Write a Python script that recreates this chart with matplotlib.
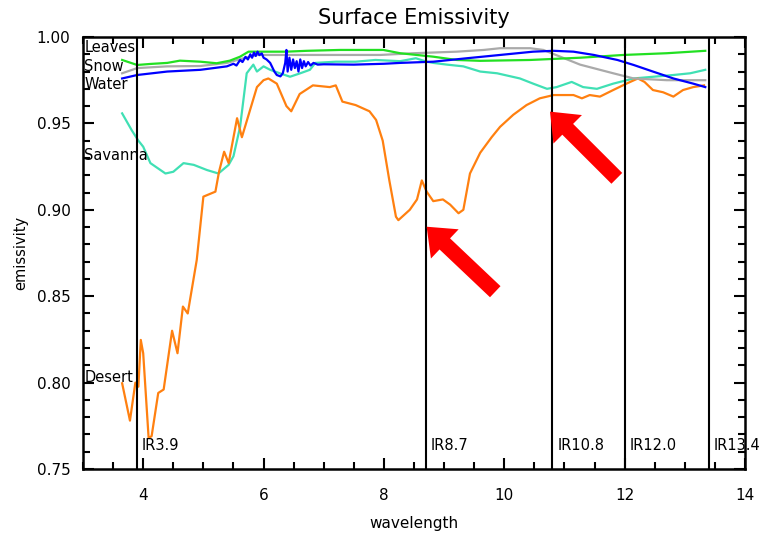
import matplotlib
matplotlib.use("Agg")
import matplotlib.pyplot as plt
from matplotlib.ticker import MultipleLocator

# ---------------- data ----------------
desert_x = [3.65, 3.78, 3.87, 3.92, 3.96, 4.0, 4.09, 4.14, 4.25, 4.34, 4.48, 4.57, 4.66, 4.74,
            4.89, 5.0, 5.2, 5.26, 5.345, 5.42, 5.56, 5.64, 5.89, 6.0, 6.08, 6.22, 6.38, 6.46,
            6.6, 6.82, 7.1, 7.2, 7.31, 7.53, 7.76, 7.87, 7.98, 8.09, 8.2, 8.24, 8.43, 8.55,
            8.63, 8.71, 8.82, 8.98, 9.1, 9.24, 9.32, 9.43, 9.6, 9.79, 9.93, 10.15, 10.37,
            10.59, 10.82, 11.15, 11.29, 11.42, 11.59, 11.81, 12.03, 12.22, 12.33, 12.47,
            12.64, 12.81, 12.97, 13.14, 13.32]
desert_y = [0.7996, 0.778, 0.800, 0.7976, 0.8247, 0.817, 0.768, 0.769, 0.794, 0.796, 0.830,
            0.817, 0.844, 0.840, 0.871, 0.9076, 0.9105, 0.922, 0.9336, 0.927, 0.953, 0.942,
            0.971, 0.975, 0.976, 0.973, 0.960, 0.957, 0.967, 0.972, 0.971, 0.972, 0.9626,
            0.9606, 0.957, 0.952, 0.940, 0.917, 0.896, 0.894, 0.900, 0.906, 0.917, 0.9105,
            0.905, 0.906, 0.903, 0.898, 0.900, 0.921, 0.933, 0.942, 0.948, 0.955, 0.9606,
            0.9645, 0.9664, 0.9664, 0.9645, 0.9664, 0.9655, 0.9693, 0.973, 0.976, 0.974,
            0.9693, 0.968, 0.9655, 0.9693, 0.971, 0.972]

savanna_x = [3.65, 3.81, 3.92, 4.0, 4.12, 4.37, 4.5, 4.67, 4.84, 5.06, 5.25, 5.42, 5.5, 5.61,
             5.72, 5.83, 5.89, 6.0, 6.11, 6.27, 6.44, 6.61, 6.77, 6.86, 7.2, 7.53, 7.86,
             8.27, 8.53, 8.71, 8.82, 9.05, 9.32, 9.6, 9.88, 10.26, 10.48, 10.71, 10.87,
             11.12, 11.31, 11.54, 11.81, 12.15, 12.48, 12.81, 13.09, 13.34]
savanna_y = [0.9558, 0.946, 0.940, 0.9365, 0.927, 0.921, 0.922, 0.927, 0.926, 0.923, 0.921,
             0.926, 0.931, 0.948, 0.979, 0.984, 0.980, 0.983, 0.981, 0.979, 0.977, 0.979,
             0.981, 0.985, 0.9857, 0.9857, 0.9867, 0.986, 0.9877, 0.9857, 0.985, 0.984,
             0.983, 0.980, 0.979, 0.976, 0.973, 0.970, 0.971, 0.974, 0.971, 0.970, 0.973,
             0.976, 0.977, 0.978, 0.979, 0.981]

snow_x = [3.65, 3.9, 4.4, 4.95, 5.39, 5.67, 5.89, 6.2, 7.0, 7.94, 8.49, 9.21, 9.66, 9.93,
          10.43, 10.65, 10.93, 11.26, 11.81, 12.15, 12.7, 13.34]
snow_y = [0.979, 0.982, 0.983, 0.9832, 0.985, 0.9877, 0.9896, 0.9896, 0.9896, 0.9896, 0.9906,
          0.9915, 0.9925, 0.9935, 0.9935, 0.9925, 0.9886, 0.984, 0.979, 0.976, 0.975, 0.975]

leaves_x = [3.65, 3.9, 4.12, 4.4, 4.61, 4.95, 5.22, 5.44, 5.61, 5.75, 5.89, 6.05, 6.38, 6.72,
            7.27, 7.99, 8.27, 8.82, 9.21, 9.6, 10.43, 11.26, 11.98, 12.7, 13.34]
leaves_y = [0.9867, 0.9838, 0.9844, 0.985, 0.9863, 0.9857, 0.9848, 0.9863, 0.9886, 0.9915,
            0.9915, 0.9915, 0.9915, 0.992, 0.9925, 0.9925, 0.9906, 0.9886, 0.9867, 0.9862,
            0.9867, 0.988, 0.9896, 0.9906, 0.992]

water_x = [3.65, 3.9, 4.4, 4.95, 5.39, 5.5, 5.55, 5.61, 5.65, 5.7, 5.74, 5.78, 5.81, 5.84,
           5.87, 5.9, 5.93, 5.97, 6.0, 6.05, 6.11, 6.18, 6.22, 6.28, 6.32, 6.36, 6.38, 6.40,
           6.43, 6.46, 6.49, 6.52, 6.55, 6.58, 6.61, 6.64, 6.67, 6.70, 6.74, 6.78, 6.83,
           6.9, 7.0, 7.5, 8.0, 8.27, 8.82, 9.38, 9.93, 10.48, 10.82, 11.15, 11.49, 11.88,
           12.15, 12.47, 12.81, 13.14, 13.34]
water_y = [0.976, 0.978, 0.980, 0.981, 0.983, 0.9845, 0.9835, 0.9867, 0.9855, 0.9885, 0.9870,
           0.9900, 0.9880, 0.9910, 0.9890, 0.9915, 0.9895, 0.9905, 0.9880, 0.9870, 0.985,
           0.980, 0.978, 0.9772, 0.9790, 0.9850, 0.9925, 0.980, 0.988, 0.981, 0.987, 0.982,
           0.986, 0.980, 0.987, 0.982, 0.986, 0.983, 0.9855, 0.9835, 0.985, 0.984, 0.9842,
           0.9840, 0.9845, 0.985, 0.9857, 0.9877, 0.9896, 0.9915, 0.992, 0.9915, 0.9896,
           0.9867, 0.9838, 0.980, 0.976, 0.973, 0.971]

surface_names = ["Leaves", "Snow", "Water", "Savanna", "Desert"]
surface_label_y = [0.9942, 0.9830, 0.9725, 0.9317, 0.8027]

channel_names = ["IR3.9", "IR8.7", "IR10.8", "IR12.0", "IR13.4"]
channel_x = [3.9, 8.7, 10.8, 12.0, 13.4]

arrow_tips = [(8.71, 0.8902), (10.76, 0.9568)]
arrow_tails = [(9.85, 0.8526), (11.87, 0.9182)]

# ---------------- figure ----------------
fig = plt.figure(figsize=(7.63, 5.36), dpi=100)
ax = fig.add_axes([0.1088, 0.125, 0.8676, 0.806])

lw = 1.6
ax.plot(savanna_x, savanna_y, color="#40E0B4", lw=lw)
ax.plot(desert_x, desert_y, color="#FF8010", lw=lw)
ax.plot(snow_x, snow_y, color="#AAAAAA", lw=lw)
ax.plot(leaves_x, leaves_y, color="#22E022", lw=lw)
ax.plot(water_x, water_y, color="#0000FF", lw=lw)

for cx, name in zip(channel_x, channel_names):
    ax.axvline(cx, color="black", lw=1.5)
    ax.text(cx + 0.08, 0.7635, name, fontsize=10.5, ha="left", va="center",
            clip_on=False)

for name, yy in zip(surface_names, surface_label_y):
    ax.text(3.02, yy, name, fontsize=10.5, ha="left", va="center")

for tip, tail in zip(arrow_tips, arrow_tails):
    ax.annotate("", xy=tip, xytext=tail,
                arrowprops=dict(arrowstyle="simple,head_length=1.8,head_width=2.9,tail_width=1.1",
                                mutation_scale=10, color="#FF0000", shrinkA=0, shrinkB=0, lw=0))

ax.set_xlim(3, 14)
ax.set_ylim(0.75, 1.00)
ax.xaxis.set_minor_locator(MultipleLocator(0.5))
ax.yaxis.set_minor_locator(MultipleLocator(0.01))
ax.set_xticks([4, 6, 8, 10, 12, 14])
ax.set_yticks([0.75, 0.80, 0.85, 0.90, 0.95, 1.00])
ax.set_yticklabels(["0.75", "0.80", "0.85", "0.90", "0.95", "1.00"])
ax.tick_params(which="both", direction="in", top=True, right=True, width=1.5, labelsize=11)
ax.tick_params(which="major", length=8)
ax.tick_params(which="minor", length=5)
ax.tick_params(axis="x", pad=14)
ax.tick_params(axis="y", pad=9)
for s in ax.spines.values():
    s.set_linewidth(1.8)

ax.set_title("Surface Emissivity", fontsize=15, pad=9)
ax.set_xlabel("wavelength", fontsize=11, labelpad=9)
ax.set_ylabel("emissivity", fontsize=10.5, labelpad=6)

fig.savefig("out.png", dpi=100)
